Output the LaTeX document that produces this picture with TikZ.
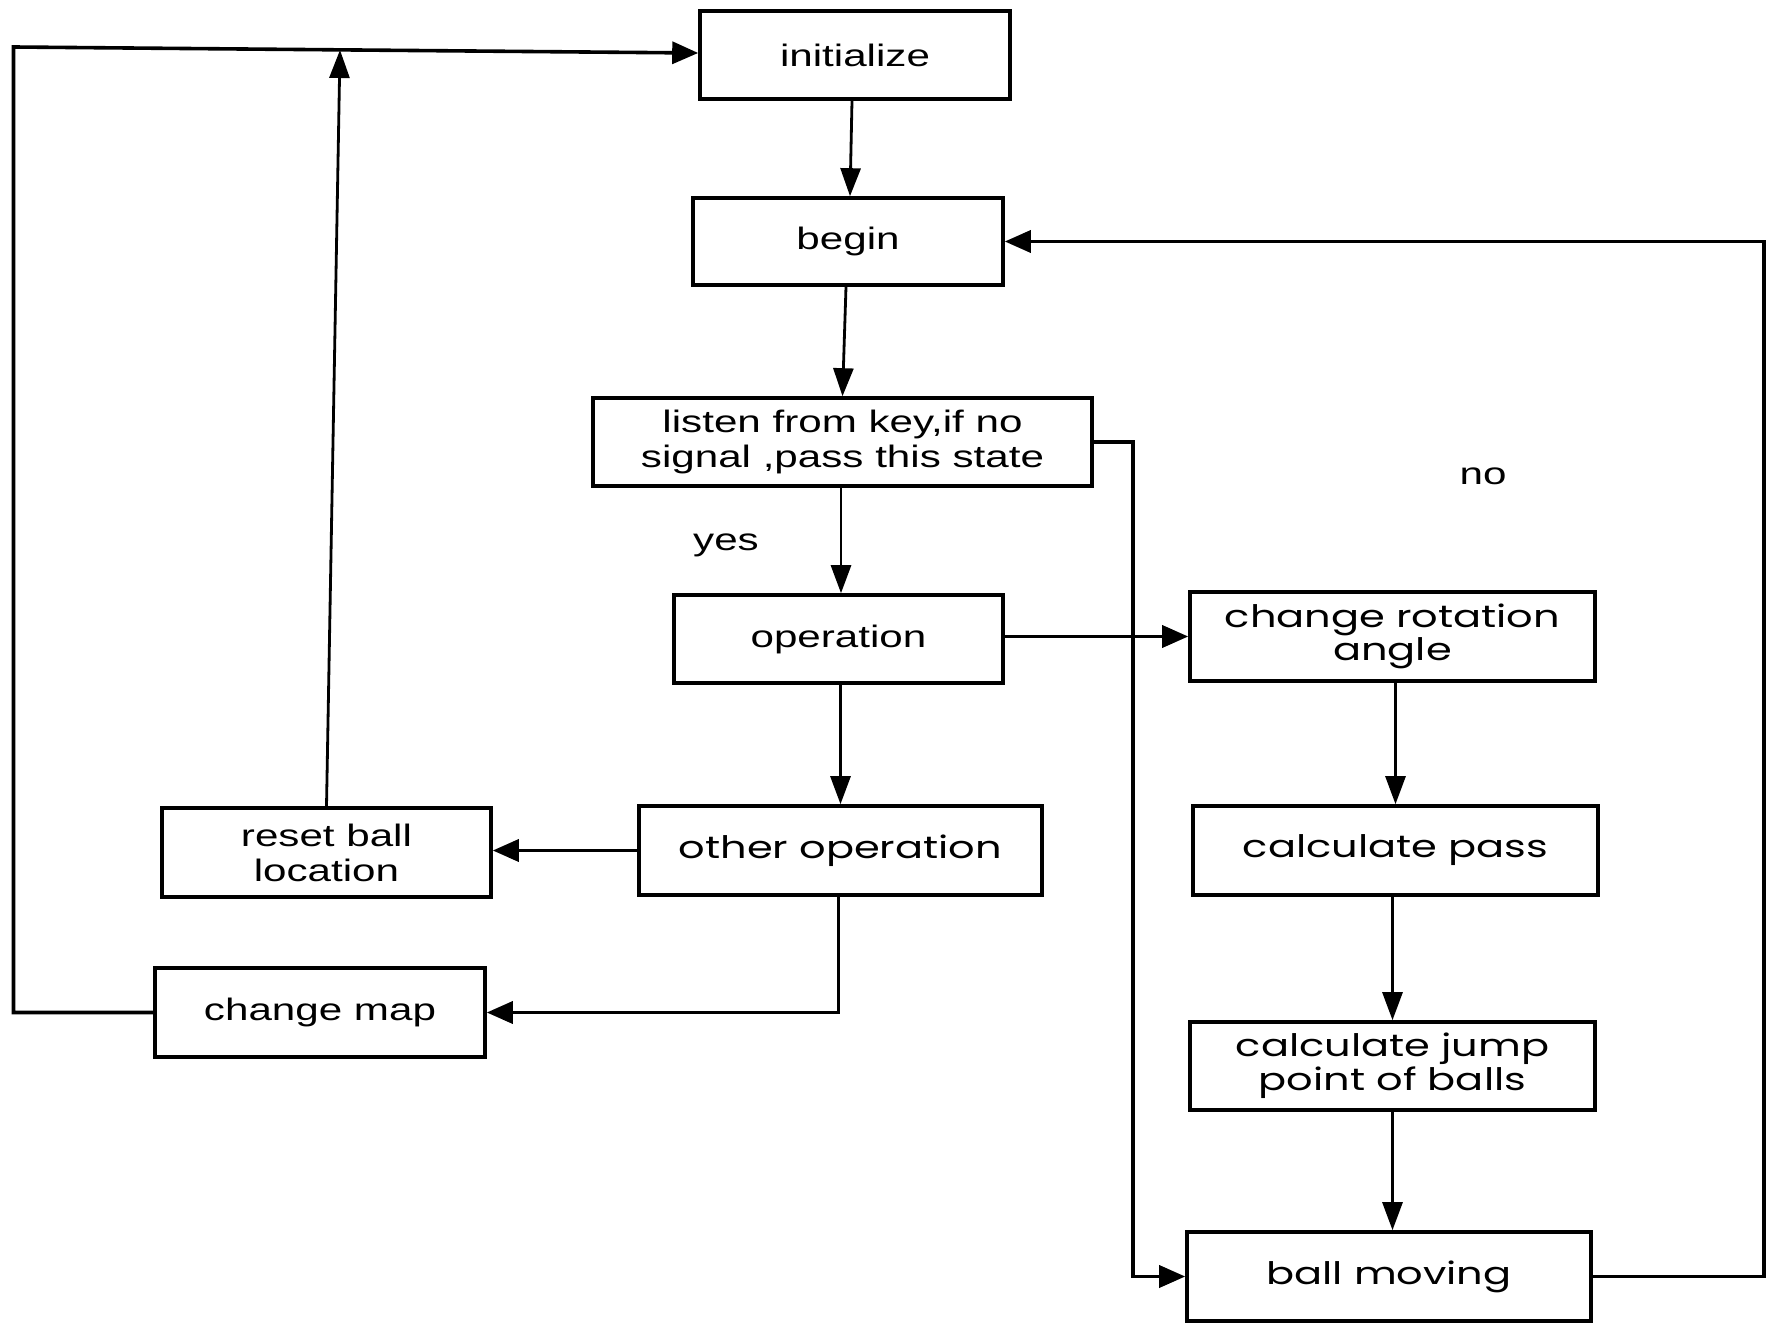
\documentclass[tikz,border=0pt]{standalone}
\usepackage{fontspec}
\setmainfont{Liberation Sans}[FakeStretch=1.36]
\newfontfamily\gothic{Poppins}[FakeStretch=1.34]
\usetikzlibrary{arrows.meta,calc}
\begin{document}
\begin{tikzpicture}[x=0.5pt,y=-0.5pt,
  box/.style={draw,line width=1.8pt,rectangle,inner sep=0pt,align=center,
    font=\fontsize{15.5}{17.5}\selectfont},
  gbox/.style={box,font=\gothic\fontsize{15.5}{15.5}\selectfont},
  lbl/.style={inner sep=0pt,font=\fontsize{15.5}{17.5}\selectfont},
  conn/.style={line width=1.4pt,-{Triangle[length=14pt,width=10pt]}},
  connB/.style={line width=1.8pt,-{Triangle[length=13pt,width=11pt]}}
]
\useasboundingbox (0,0) rectangle (1767,1326);
\fill[white] (0,0) rectangle (1767,1326);

\node[box,minimum width=155pt,minimum height=44pt] (init) at (855,55) {initialize};
\node[box,minimum width=155pt,minimum height=43.5pt] (begin) at (848,241.5) {begin};
\node[box,minimum width=249.5pt,minimum height=44pt] (listen) at (842.5,442) {listen from key,if no\\signal ,pass this state};
\node[box,minimum width=164.5pt,minimum height=44pt] (oper) at (838.5,639) {operation};
\node[gbox,minimum width=202.5pt,minimum height=44.5pt] (rot) at (1392.5,636.5) {change rotation\\angle};
\node[gbox,minimum width=201.5pt,minimum height=44.5pt] (other) at (840.5,850.5) {other operation};
\node[box,minimum width=164.5pt,minimum height=44.5pt] (reset) at (326.5,852.5) {reset ball\\location};
\node[gbox,minimum width=202.5pt,minimum height=44.5pt] (pass) at (1395.5,850.5) {calculate pass};
\node[box,minimum width=165pt,minimum height=44.5pt] (map) at (320,1012.5) {change map};
\node[gbox,minimum width=202.5pt,minimum height=44pt] (jump) at (1392.5,1066) {calculate jump\\point of balls};
\node[gbox,minimum width=202pt,minimum height=44.5pt] (moving) at (1389,1276.5) {ball moving};

\node[lbl] (yes) at (726,545) {yes};
\node[lbl] (no) at (1483,476) {no};

\coordinate (tl) at (13.5,47);
\coordinate (tr) at (340,50);
\coordinate (nx) at (1133,442);
\coordinate (rx) at (1764,0);

\draw[conn] ($(init.south)+(-3,0)$) -- ($(begin.north)+(2,0)$);
\draw[conn] ($(begin.south)+(-2,0)$) -- (listen.north);
\draw[conn] ($(listen.south)+(-1.5,0)$) -- ($(oper.north)+(2.5,0)$);
\draw[connB] (oper.east |- rot.west) -- (rot.west);
\draw[conn] (other.north |- oper.south) -- (other.north);
\draw[connB] (other.west) -- (other.west -| reset.east);
\draw[connB] ($(other.south)+(-2,0)$) |- (map.east);
\draw[connB] (map.west) -| (tl) -- ($(init.west)+(0,-2)$);
\draw[conn] (reset.north) -- (tr);
\draw[connB] (listen.east) -- (nx) -- (nx |- moving.west) -- (moving.west);
\draw[connB] (moving.east) -- (moving.east -| rx) |- (begin.east);
\draw[conn] (pass.north |- rot.south) -- (pass.north);
\draw[conn] (jump.north |- pass.south) -- (jump.north);
\draw[conn] (jump.south) -- (jump.south |- moving.north);
\end{tikzpicture}
\end{document}
